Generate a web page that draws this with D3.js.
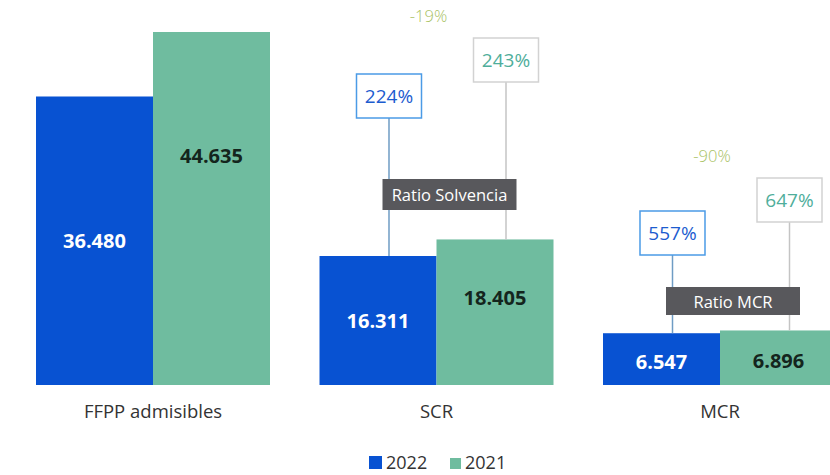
<!DOCTYPE html>
<html>
<head>
<meta charset="utf-8">
<script src="https://cdn.jsdelivr.net/npm/d3@7"></script>
<style>
  body { margin: 0; background: #fff; }
  svg { display: block; font-family: "Open Sans", "Noto Sans", sans-serif; }
</style>
</head>
<body>
<svg id="chart"></svg>
<script>
// Chart data
const categories = ["FFPP admisibles", "SCR", "MCR"];
const years = ["2022", "2021"];
const values2022 = [36480, 16311, 6547];
const values2021 = [44635, 18405, 6896];
const ratio2022 = [null, 224, 557];
const ratio2021 = [null, 243, 647];
const ratioDiff = [null, "-19%", "-90%"];
const ratioNames = [null, "Ratio Solvencia", "Ratio MCR"];

// Layout for the ratio callouts (pixel tops of the boxes and dark tags)
const calloutLayout = [
  null,
  { top2022: 74, top2021: 38, tagY: 179, tagH: 31 },
  { top2022: 211, top2021: 178, tagY: 287, tagH: 28 }
];

const width = 830;
const height = 475;
const baseline = 385;

const colors = { "2022": "#0852d2", "2021": "#6fbc9f" };
const labelColors = { "2022": "#ffffff", "2021": "#14251d" };

const svg = d3.select("#chart")
  .attr("width", width)
  .attr("height", height);

// Scales
const x0 = d3.scaleBand()
  .domain(categories)
  .range([36, 837])
  .paddingInner(0.1746)
  .paddingOuter(0);

const x1 = d3.scaleBand()
  .domain(years)
  .range([0, x0.bandwidth()])
  .padding(0);

const y = d3.scaleLinear()
  .domain([0, 44635])
  .range([baseline, 32]);

const rows = categories.map((c, i) => ({
  category: c,
  bars: [
    { year: "2022", value: values2022[i] },
    { year: "2021", value: values2021[i] }
  ]
}));

const fmt = v => d3.format(",")(v).replace(/,/g, ".");

// Bars
const groups = svg.selectAll(".group")
  .data(rows)
  .join("g")
  .attr("class", "group")
  .attr("transform", d => `translate(${x0(d.category)},0)`);

// Ratio callouts: boxes, connector lines, dark tag and difference label
categories.forEach((c, i) => {
  if (ratio2022[i] === null) return;
  const lay = calloutLayout[i];
  const boxW = 65, boxH = 44;
  const items = [
    { year: "2022", ratio: ratio2022[i], top: lay.top2022, value: values2022[i],
      stroke: "#4b9be6", text: "#1c5ccf", line: "#6f9cc4" },
    { year: "2021", ratio: ratio2021[i], top: lay.top2021, value: values2021[i],
      stroke: "#d2d2d2", text: "#4fae9b", line: "#c4c4c4" }
  ];
  const g = svg.append("g").attr("class", "callouts");
  items.forEach(it => {
    const cx = x0(c) + x1(it.year) + x1.bandwidth() / 2 + 11;
    g.append("line")
      .attr("x1", cx).attr("x2", cx)
      .attr("y1", it.top + boxH)
      .attr("y2", y(it.value))
      .attr("stroke", it.line)
      .attr("stroke-width", 1.5);
    g.append("rect")
      .attr("x", cx - boxW / 2)
      .attr("y", it.top)
      .attr("width", boxW)
      .attr("height", boxH)
      .attr("fill", "#fff")
      .attr("stroke", it.stroke)
      .attr("stroke-width", 1.5);
    g.append("text")
      .attr("x", cx)
      .attr("y", it.top + boxH / 2)
      .attr("text-anchor", "middle")
      .attr("dominant-baseline", "central")
      .attr("fill", it.text)
      .style("font-size", "19px")
      .text(it.ratio + "%");
  });

  // Dark tag with the ratio name
  const tagW = 134;
  const tagCx = x0(c) + x0.bandwidth() / 2 + 13;
  g.append("rect")
    .attr("x", tagCx - tagW / 2)
    .attr("y", lay.tagY)
    .attr("width", tagW)
    .attr("height", lay.tagH)
    .attr("fill", "#58585c");
  g.append("text")
    .attr("x", tagCx)
    .attr("y", lay.tagY + lay.tagH / 2)
    .attr("text-anchor", "middle")
    .attr("dominant-baseline", "central")
    .attr("fill", "#fff")
    .style("font-size", "16.5px")
    .text(ratioNames[i]);

  // Difference label above the callouts
  g.append("text")
    .attr("x", x0(c) + x0.bandwidth() / 2 - 8)
    .attr("y", lay.top2021 - 23)
    .attr("text-anchor", "middle")
    .attr("dominant-baseline", "central")
    .attr("fill", "#a9c264")
    .style("font-size", "16.5px")
    .style("font-weight", "300")
    .text(ratioDiff[i]);
});

groups.selectAll("rect")
  .data(d => d.bars)
  .join("rect")
  .attr("x", d => x1(d.year))
  .attr("y", d => y(d.value))
  .attr("width", x1.bandwidth())
  .attr("height", d => baseline - y(d.value))
  .attr("fill", d => colors[d.year]);

// Value labels inside bars (2021 labels sit higher on tall bars)
groups.selectAll(".val")
  .data(d => d.bars)
  .join("text")
  .attr("class", "val")
  .attr("x", d => x1(d.year) + x1.bandwidth() / 2)
  .attr("y", d => {
    const h = baseline - y(d.value);
    let f = 0.5;
    if (h < 100) f = 0.45;
    else if (d.year === "2021") f = h > 300 ? 0.65 : 0.6;
    return baseline - h * f;
  })
  .attr("text-anchor", "middle")
  .attr("dominant-baseline", "central")
  .attr("fill", d => labelColors[d.year])
  .style("font-size", "20px")
  .style("font-weight", "bold")
  .text(d => fmt(d.value));

// Category axis labels
svg.selectAll(".cat")
  .data(categories)
  .join("text")
  .attr("class", "cat")
  .attr("x", d => x0(d) + x0.bandwidth() / 2)
  .attr("y", 418)
  .attr("text-anchor", "middle")
  .attr("fill", "#333")
  .style("font-size", "18.5px")
  .text(d => d);

// Legend
const legend = svg.append("g").attr("transform", "translate(369,456)");
const legendItems = [
  { year: "2022", x: 0, size: 13 },
  { year: "2021", x: 81, size: 11 }
];
legendItems.forEach(it => {
  legend.append("rect")
    .attr("x", it.x)
    .attr("y", 13 - it.size)
    .attr("width", it.size)
    .attr("height", it.size)
    .attr("fill", colors[it.year]);
  legend.append("text")
    .attr("x", it.x + it.size + 4)
    .attr("y", 13)
    .attr("fill", "#333")
    .style("font-size", "18px")
    .text(it.year);
});
</script>
</body>
</html>
